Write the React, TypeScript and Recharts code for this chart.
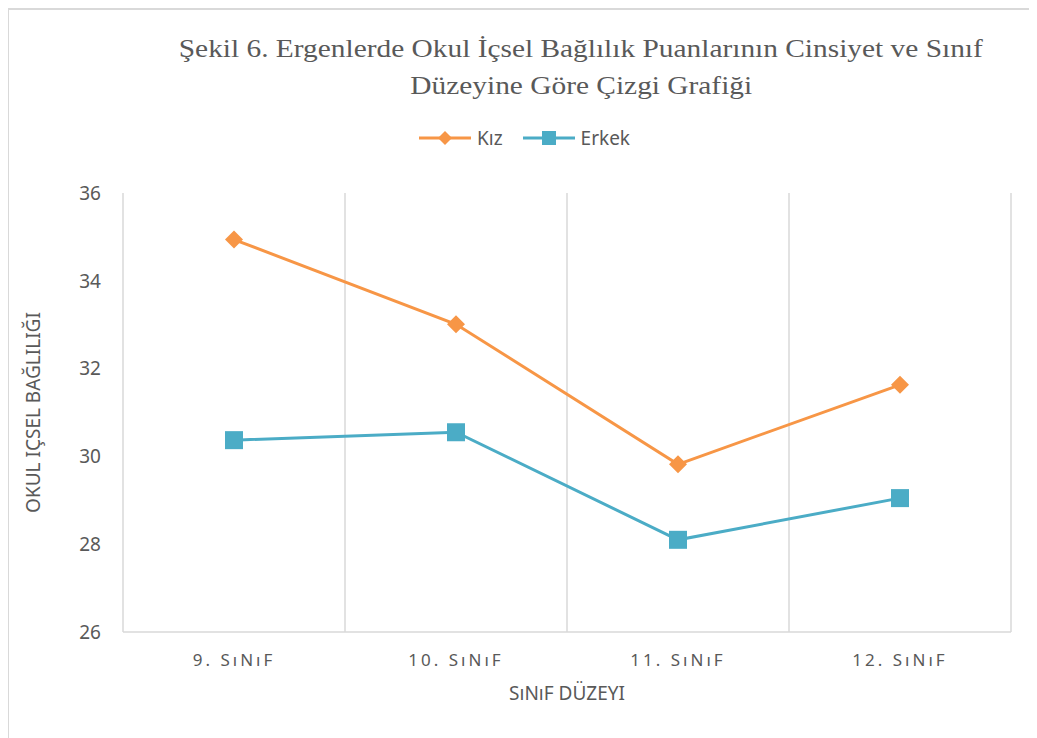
import React from 'react';
import { LineChart, Line, XAxis, YAxis, CartesianGrid, Legend } from 'recharts';

const categories = ['9. SıNıF', '10. SıNıF', '11. SıNıF', '12. SıNıF'];
const kizValues = [34.94, 33.01, 29.82, 31.63];
const erkekValues = [30.37, 30.55, 28.1, 29.05];
const yTicks = [26, 28, 30, 32, 34, 36];
const seriesOrder = ['kiz', 'erkek'];

const data = categories.map((c, i) => ({ name: c, kiz: kizValues[i], erkek: erkekValues[i] }));

const ORANGE = '#F79646';
const BLUE = '#4BACC6';
const TEXT = '#595959';
const GRID = '#D9D9D9';
const SANS = '"Noto Sans", "Open Sans", sans-serif';

const Diamond = (props: any) => {
  const { cx, cy, size = 9, color = ORANGE } = props;
  if (cx == null || cy == null) return null;
  return (
    <polygon
      points={`${cx},${cy - size} ${cx + size},${cy} ${cx},${cy + size} ${cx - size},${cy}`}
      fill={color}
    />
  );
};

const Square = (props: any) => {
  const { cx, cy, size = 9, color = BLUE } = props;
  if (cx == null || cy == null) return null;
  return <rect x={cx - size} y={cy - size} width={size * 2} height={size * 2} fill={color} />;
};

const LegendContent = (props: any) => {
  const payload = [...(props.payload || [])].sort(
    (a: any, b: any) => seriesOrder.indexOf(a.dataKey) - seriesOrder.indexOf(b.dataKey)
  );
  return (
    <div style={{ display: 'flex', alignItems: 'center', fontFamily: SANS, fontSize: 19, color: TEXT }}>
      {payload.map((p: any, i: number) => (
        <div key={i} style={{ display: 'flex', alignItems: 'center', marginRight: 20 }}>
          <svg width={52} height={18} style={{ marginRight: 6 }}>
            <line x1={0} y1={9} x2={52} y2={9} stroke={p.color} strokeWidth={3} />
            {p.dataKey === 'kiz' ? (
              <Diamond cx={26} cy={9} size={7} color={p.color} />
            ) : (
              <Square cx={26} cy={9} size={7} color={p.color} />
            )}
          </svg>
          <span>{p.value}</span>
        </div>
      ))}
    </div>
  );
};

export default function App() {
  return (
    <div
      style={{
        position: 'relative',
        width: 1029,
        height: 730,
        borderLeft: `2px solid ${GRID}`,
        borderTop: `2px solid ${GRID}`,
        boxSizing: 'border-box',
        marginLeft: -1,
        background: '#fff',
      }}
    >
      <div
        style={{
          position: 'absolute',
          left: 0,
          width: 1144,
          top: 20,
          textAlign: 'center',
          fontFamily: '"Liberation Serif", "Times New Roman", serif',
          fontSize: 26,
          lineHeight: '37px',
          color: TEXT,
        }}
      >
        <span style={{ display: 'inline-block', transform: 'scaleX(1.13)', transformOrigin: 'center' }}>
          Şekil 6. Ergenlerde Okul İçsel Bağlılık Puanlarının Cinsiyet ve Sınıf
        </span>
        <br />
        <span style={{ display: 'inline-block', transform: 'scaleX(1.13)', transformOrigin: 'center' }}>
          Düzeyine Göre Çizgi Grafiği
        </span>
      </div>
      <div style={{ position: 'absolute', left: -2, top: -2 }}>
        <LineChart
          width={1029}
          height={730}
          data={data}
          margin={{ top: 159, right: 25, bottom: 26, left: 16 }}
        >
          <CartesianGrid
            horizontal={false}
            stroke={GRID}
            strokeWidth={1.5}
            verticalCoordinatesGenerator={({ offset }: any) =>
              [1, 2, 3, 4].map((i) => offset.left + (offset.width * i) / categories.length)
            }
          />
          <XAxis
            dataKey="name"
            scale="band"
            height={80}
            axisLine={{ stroke: GRID, strokeWidth: 1.5 }}
            tickLine={false}
            tickMargin={16}
            tick={{ fill: TEXT, fontSize: 17, fontFamily: SANS, letterSpacing: 3 }}
            interval={0}
            label={{
              value: 'SıNıF DÜZEYI',
              position: 'insideBottom',
              offset: 12,
              fill: TEXT,
              fontSize: 19,
              fontFamily: SANS,
            }}
          />
          <YAxis
            domain={[26, 36]}
            ticks={yTicks}
            width={100}
            axisLine={{ stroke: GRID, strokeWidth: 1.5 }}
            tickLine={false}
            tickMargin={16}
            tick={{ fill: TEXT, fontSize: 19, fontFamily: SANS }}
            label={{
              value: 'OKUL IÇSEL BAĞLILIĞI',
              angle: -90,
              position: 'insideLeft',
              offset: 10,
              fill: TEXT,
              fontSize: 19,
              fontFamily: SANS,
              style: { textAnchor: 'middle' },
            }}
          />
          <Legend
            verticalAlign="top"
            content={<LegendContent />}
            wrapperStyle={{ top: 117, left: 412, width: 330 }}
          />
          <Line
            type="linear"
            dataKey="kiz"
            name="Kız"
            stroke={ORANGE}
            strokeWidth={3}
            dot={<Diamond />}
            activeDot={false}
            isAnimationActive={false}
          />
          <Line
            type="linear"
            dataKey="erkek"
            name="Erkek"
            stroke={BLUE}
            strokeWidth={3}
            dot={<Square />}
            activeDot={false}
            isAnimationActive={false}
          />
        </LineChart>
      </div>
    </div>
  );
}
